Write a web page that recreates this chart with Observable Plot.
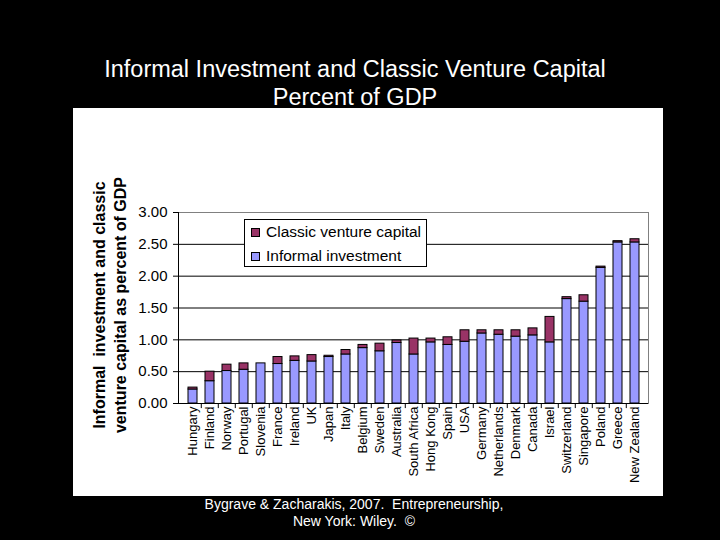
<!DOCTYPE html>
<html><head><meta charset="utf-8">
<script src="https://cdn.jsdelivr.net/npm/d3@7"></script>
<script src="https://cdn.jsdelivr.net/npm/@observablehq/plot@0.6"></script>
<style>
html,body{margin:0;padding:0;background:#000;}
#page{position:relative;width:720px;height:540px;background:#000;overflow:hidden;font-family:"Liberation Sans",Arial,sans-serif;}
#title{position:absolute;left:0;top:55px;width:710px;text-align:center;color:#fff;font-size:23.5px;line-height:28px;}
#panel{position:absolute;left:73px;top:108px;width:590px;height:388px;background:#fff;}
#legend{position:absolute;left:244px;top:219px;width:183px;height:48px;border:1px solid #000;background:#fff;box-sizing:border-box;padding-left:6px;}
.row{display:flex;align-items:center;height:24px;font-size:15.5px;color:#000;}
.sw{width:7px;height:7px;border:1px solid #000;margin-right:6px;}
#caption{position:absolute;left:0;top:496px;width:708px;text-align:center;color:#fff;font-size:14px;line-height:17px;}
</style>
</head><body>
<div id="page">
  <div id="title">Informal Investment and Classic Venture Capital<br>Percent of GDP</div>
  <div id="panel"></div>
  <div id="legend"></div>
  <div id="caption">Bygrave &amp; Zacharakis, 2007.&nbsp; Entrepreneurship,<br>New York: Wiley.&nbsp; ©</div>
</div>
<script>
const countries = ["Hungary","Finland","Norway","Portugal","Slovenia","France","Ireland","UK","Japan","Italy","Belgium","Sweden","Australia","South Africa","Hong Kong","Spain","USA","Germany","Netherlands","Denmark","Canada","Israel","Switzerland","Singapore","Poland","Greece","New Zealand"];
const informal = [0.22,0.35,0.51,0.53,0.63,0.62,0.67,0.66,0.73,0.77,0.87,0.82,0.95,0.77,0.96,0.92,0.97,1.10,1.08,1.05,1.07,0.96,1.64,1.60,2.13,2.53,2.53];
const classicVC = [0.03,0.15,0.10,0.10,0.00,0.11,0.07,0.10,0.02,0.07,0.05,0.12,0.04,0.25,0.06,0.12,0.18,0.05,0.07,0.10,0.11,0.40,0.03,0.10,0.02,0.02,0.05];
const seriesNames = ["Classic venture capital","Informal investment"];
const seriesColors = ["#993366","#9999FF"];
const yTicks = [0,0.5,1,1.5,2,2.5,3];
const yLabel = "Informal  investment and classic\nventure capital as percent of GDP";

const rows = countries.map((c,i)=>({country:c, informal:informal[i], vc:classicVC[i], total:informal[i]+classicVC[i]}));

const W = 590, H = 388, mL = 105, mR = 15, mT = 104, mB = 93;
const step = (W - mL - mR) / countries.length;

const chart = Plot.plot({
  width: W, height: H,
  marginLeft: mL, marginRight: mR, marginTop: mT, marginBottom: mB,
  style: {background: "white", fontFamily: "Liberation Sans, Arial, sans-serif", color: "black"},
  x: {domain: countries, paddingInner: 0.5, paddingOuter: 0.25},
  y: {domain: [0,3]},
  marks: [
    Plot.ruleY(yTicks.filter(d=>d>0 && d<3), {stroke: "black", strokeWidth: 1}),
    Plot.ruleY([3], {stroke: "#808080", strokeWidth: 1}),
    Plot.frame({anchor: "right", stroke: "#808080"}),
    Plot.barY(rows, {x: "country", y1: 0, y2: "informal", fill: seriesColors[1], stroke: "black", strokeWidth: 1}),
    Plot.barY(rows.filter(d=>d.vc>0), {x: "country", y1: "informal", y2: "total", fill: seriesColors[0], stroke: "black", strokeWidth: 1}),
    Plot.ruleY([0], {stroke: "black"}),
    Plot.frame({anchor: "left", stroke: "black"}),
    Plot.ruleX(countries.slice(1), {x: d=>d, dx: -step/2, y1: 0, y2: -0.08, stroke: "black"}),
    Plot.axisY({ticks: yTicks, tickFormat: d3.format(".2f"), tickSize: 5, tickPadding: 6, fontSize: 15, label: null}),
    Plot.axisX({tickRotate: -90, tickSize: 0, tickPadding: 3, fontSize: 13, label: null}),
    Plot.text([yLabel], {frameAnchor: "left", textAnchor: "middle", rotate: -90, dx: -70, dy: -3, fontSize: 16, fontWeight: "bold", lineHeight: 1.3})
  ]
});
document.getElementById("panel").appendChild(chart);

const legend = document.getElementById("legend");
seriesNames.forEach((n,i)=>{
  const r = document.createElement("div"); r.className = "row";
  const s = document.createElement("div"); s.className = "sw"; s.style.background = seriesColors[i];
  const t = document.createElement("span"); t.textContent = n;
  r.appendChild(s); r.appendChild(t); legend.appendChild(r);
});
</script>
</body></html>
